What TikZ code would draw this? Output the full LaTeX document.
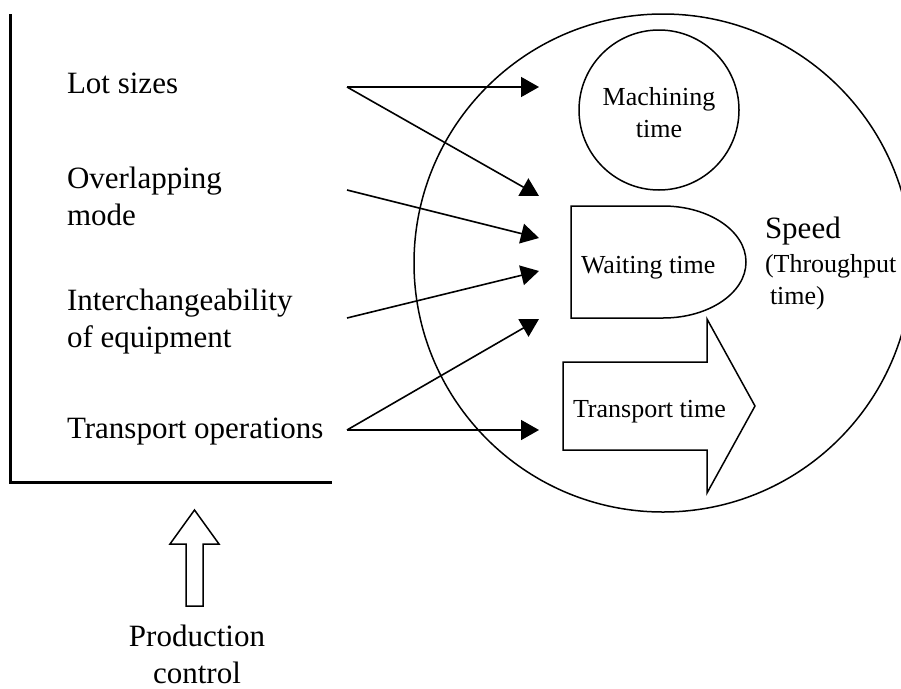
\documentclass[tikz,border=0pt]{standalone}
\usepackage{fontspec}
\setmainfont{Liberation Serif}
\usetikzlibrary{arrows.meta}

\begin{document}
\begin{tikzpicture}[x=1pt,y=-1pt,
  every node/.style={inner sep=0pt, outer sep=0pt},
  biglabel/.style={font=\fontsize{31}{36.5}\selectfont, align=left, anchor=base west},
  smalllabel/.style={font=\fontsize{26}{32}\selectfont, anchor=base west},
  outline/.style={draw, line width=1.5pt, line join=miter},
  feed/.style={line width=1.6pt, -{Triangle[length=18pt,width=20pt]}}
]
\useasboundingbox (0,0) rectangle (901,688);
\clip (0,0) rectangle (901,688);

% bracket around the influencing factors
\draw[line width=3pt] (10.5,14) -- (10.5,482) -- (332,482);

% influencing factors (multi-line nodes sit on their last baseline)
\node[biglabel] (lot)   at (67,93)  {Lot sizes};
\node[biglabel] (over)  at (67,225) {Overlapping\\mode};
\node[biglabel] (inter) at (67,347) {Interchangeability\\of equipment};
\node[biglabel] (trans) at (67,438) {Transport operations};

% throughput time and its components
\draw[line width=1.5pt] (663,263) circle (249);
\draw[outline] (659,110) circle (80);
\node[smalllabel, anchor=base] (mach) at (659,105) {Machining};
\node[smalllabel, anchor=base] (macht) at (659,137) {time};

\draw[outline] (571,206) -- (663,206)
  arc[start angle=-90, end angle=90, x radius=83, y radius=56]
  -- (571,318) -- cycle;
\node[smalllabel] (wait) at (581,273) {Waiting time};

\draw[outline] (563,362) -- (707,362) -- (707,319) -- (755,406)
  -- (707,493) -- (707,450) -- (563,450) -- cycle;
\node[smalllabel] (ttime) at (573,417) {Transport time};

\node[font=\fontsize{31}{36}\selectfont, anchor=base west] (speed) at (765,238) {Speed};
\node[smalllabel] (thru) at (765,272) {(Throughput};
\node[smalllabel] (thrut) at (770,304) {time)};

% connector ends
\coordinate (lotS)   at (347,87);
\coordinate (overS)  at (347,190);
\coordinate (interS) at (347,318);
\coordinate (transS) at (347,430);
\coordinate (machT)  at (539,87);
\coordinate (waitT1) at (539,196);
\coordinate (waitT2) at (539,238);
\coordinate (waitT3) at (539,271);
\coordinate (waitT4) at (539,319);
\coordinate (transT) at (539,430);

\draw[feed] (lotS) -- (machT);
\draw[feed] (lotS) -- (waitT1);
\draw[feed] (overS) -- (waitT2);
\draw[feed] (interS) -- (waitT3);
\draw[feed] (transS) -- (waitT4);
\draw[feed] (transS) -- (transT);

% production control input
\draw[outline] (194.5,510) -- (219,544) -- (203,544) -- (203,606)
  -- (186,606) -- (186,544) -- (170,544) -- cycle;
\node[font=\fontsize{31}{37}\selectfont, align=center, anchor=base] (prod) at (197,683) {Production\\control};
\end{tikzpicture}
\end{document}
